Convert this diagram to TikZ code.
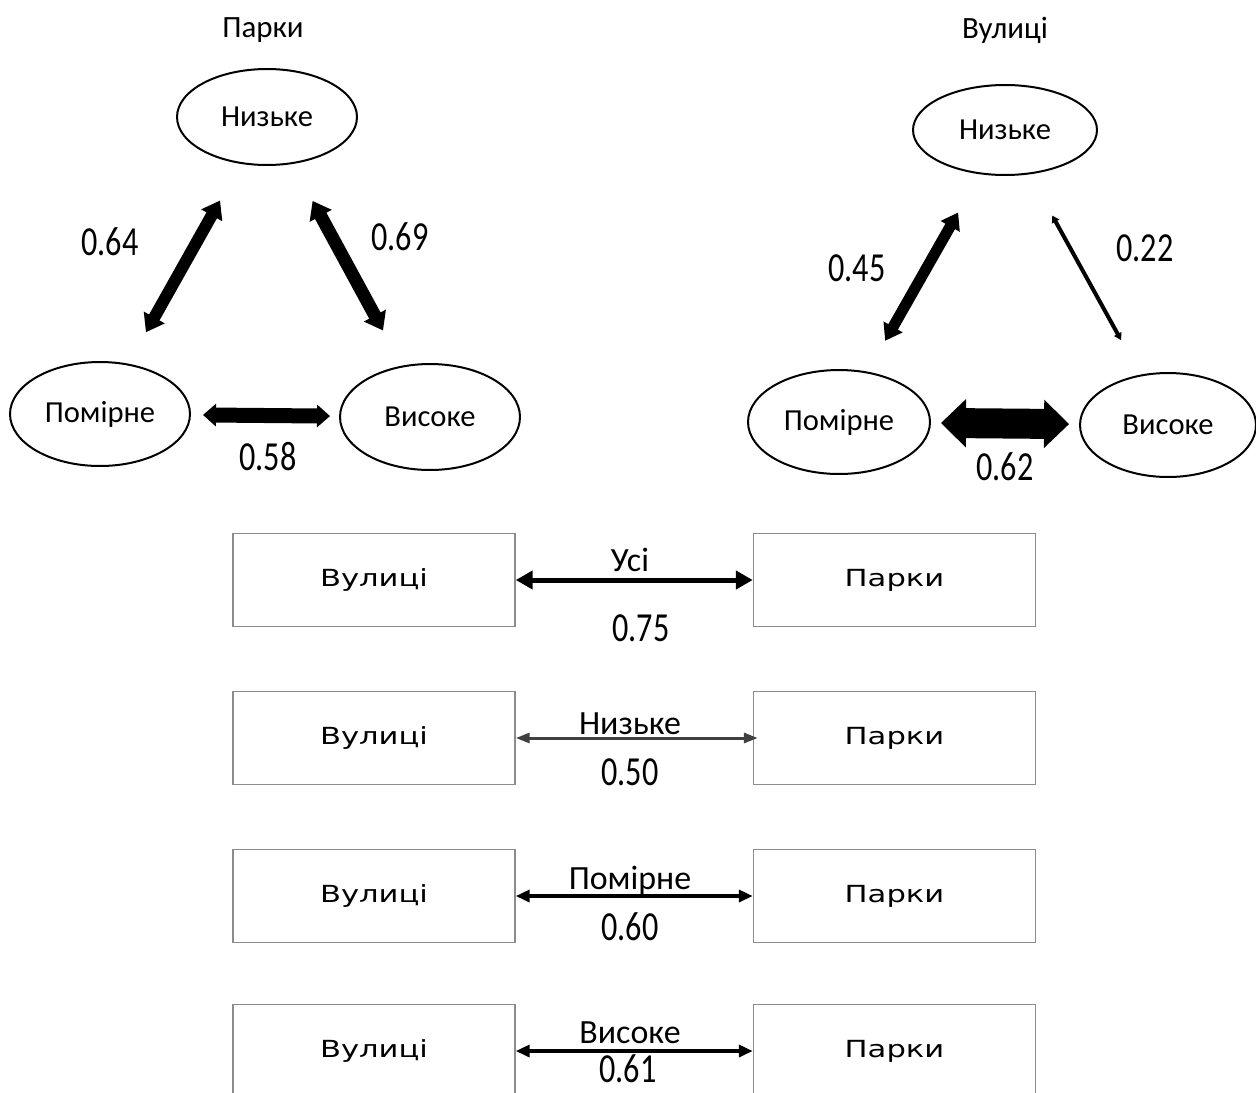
\documentclass[tikz,border=0pt]{standalone}
\usepackage{fontspec}
\usetikzlibrary{arrows.meta,shapes.geometric}
\newfontfamily\cf{Carlito}
\newfontfamily\cfn{Carlito}[FakeStretch=0.78]
\newfontfamily\dfx{DejaVu Sans}[FakeStretch=1.3]
\tikzset{
  ell/.style={ellipse,draw=black,line width=0.04cm,inner sep=0pt,
    font=\cf\fontsize{17.4}{20}\selectfont},
  ttl/.style={font=\cf\fontsize{17.6}{20}\selectfont,inner sep=0pt},
  num/.style={font=\cfn\fontsize{23.5}{27}\selectfont,inner sep=0pt},
  lvl/.style={font=\cf\fontsize{19.3}{22}\selectfont,inner sep=0pt},
  bx/.style={rectangle,draw=black!45,line width=0.03cm,minimum width=5.64cm,
    minimum height=1.86cm,inner sep=0pt,font=\dfx\fontsize{13.4}{15}\selectfont},
  thick arr/.style n args={3}{line width=#1,
    {Triangle[length=#2,width=#3]}-{Triangle[length=#2,width=#3]}},
}
\begin{document}
\begin{tikzpicture}[x=0.02cm,y=-0.02cm]
\useasboundingbox (0,0) rectangle (1256,1092);
% ---- left triangle (Парки)
\node[ttl] (tP) at (263,30) {Парки};
\node[ell,minimum width=3.6cm,minimum height=1.92cm] (nL) at (267,117) {Низьке};
\node[ell,minimum width=3.6cm,minimum height=2.08cm] (pL) at (100,414) {Помірне};
\node[ell,minimum width=3.6cm,minimum height=2.12cm] (vL) at (430,417) {Високе};
\draw[thick arr={0.24cm}{0.34cm}{0.46cm},shorten <=0.72cm,shorten >=0.84cm] (pL) -- (nL);
\draw[thick arr={0.26cm}{0.34cm}{0.48cm},shorten <=0.84cm,shorten >=0.8cm] (nL) -- (vL);
\draw[thick arr={0.3cm}{0.26cm}{0.44cm},shorten <=0.24cm,shorten >=0.18cm] (pL) -- (vL);
\node[num] (l64) at (110,242) {0.64};
\node[num] (l69) at (400,237) {0.69};
\node[num] (l58) at (268,457) {0.58};
% ---- right triangle (Вулиці)
\node[ttl] (tV) at (1005,30) {Вулиці};
\node[ell,minimum width=3.68cm,minimum height=1.8cm] (nR) at (1005,130) {Низьке};
\node[ell,minimum width=3.64cm,minimum height=2.08cm] (pR) at (839,422) {Помірне};
\node[ell,minimum width=3.52cm,minimum height=2.08cm] (vR) at (1168,425) {Високе};
\draw[thick arr={0.22cm}{0.32cm}{0.42cm},shorten <=0.71cm,shorten >=0.88cm] (pR) -- (nR);
\draw[thick arr={0.08cm}{0.14cm}{0.16cm},shorten <=0.94cm,shorten >=0.79cm] (nR) -- (vR);
\draw[thick arr={0.6cm}{0.5cm}{0.94cm},shorten <=0.2cm,shorten >=0.2cm] (pR) -- (vR);
\node[num] (l45) at (857,268) {0.45};
\node[num] (l22) at (1145,248) {0.22};
\node[num] (l62) at (1005,467) {0.62};
% ---- bottom comparisons
\node[bx] (s1) at (374,580) {Вулиці};
\node[bx] (p1) at (894.5,580) {Парки};
\draw[thick arr={0.1cm}{0.34cm}{0.36cm}] (s1) -- (p1);
\node[lvl] (c1) at (630,560) {Усі};
\node[num] (v1) at (641,628) {0.75};
\node[bx] (s2) at (374,738) {Вулиці};
\node[bx] (p2) at (894.5,738) {Парки};
\draw[thick arr={0.06cm}{0.28cm}{0.2cm},draw=black!75,shorten >=-0.1cm] (s2) -- (p2);
\node[lvl] (c2) at (630,724) {Низьке};
\node[num] (v2) at (630,772) {0.50};
\node[bx] (s3) at (374,896) {Вулиці};
\node[bx] (p3) at (894.5,896) {Парки};
\draw[thick arr={0.08cm}{0.28cm}{0.24cm}] (s3) -- (p3);
\node[lvl] (c3) at (630,881) {Помірне};
\node[num] (v3) at (630,927) {0.60};
\node[bx] (s4) at (374,1051) {Вулиці};
\node[bx] (p4) at (894.5,1051) {Парки};
\draw[thick arr={0.08cm}{0.28cm}{0.24cm}] (s4) -- (p4);
\node[lvl] (c4) at (630,1033) {Високе};
\node[num] (v4) at (628,1069) {0.61};
\end{tikzpicture}
\end{document}
